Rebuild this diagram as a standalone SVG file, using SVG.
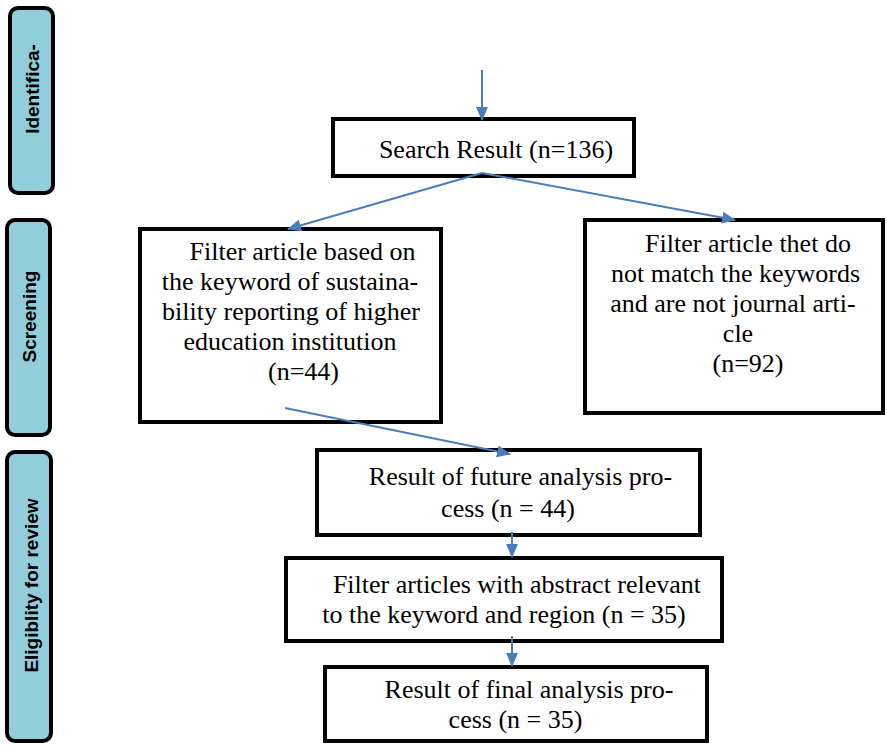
<svg xmlns="http://www.w3.org/2000/svg" width="887" height="745" viewBox="0 0 887 745">
<defs>
<marker id="ah" markerUnits="userSpaceOnUse" markerWidth="14" markerHeight="12" refX="13" refY="6" orient="auto">
<path d="M0,0 L14,6 L0,12 Z" fill="#4A7EBB"/>
</marker>
<style>
.side{fill:#92CDDC;stroke:#000;stroke-width:4}
.stxt{font-family:'Liberation Sans',Arial,sans-serif;font-weight:bold;font-size:19px;fill:#000;text-anchor:middle}
.box{fill:#fff;stroke:#000;stroke-width:4}
.t{font-family:'Liberation Serif','Times New Roman',Times,serif;font-size:26px;fill:#000;text-anchor:middle}
.c{stroke:#4A7EBB;stroke-width:2;fill:none;marker-end:url(#ah)}
</style>
</defs>
<rect width="887" height="745" fill="#fff"/>
<g id="side-identification">
<rect class="side" x="10" y="8" width="43" height="185" rx="8"/>
<text class="stxt" transform="translate(39,89) rotate(-90)">Identifica-</text>
</g>
<g id="side-screening">
<rect class="side" x="7" y="220" width="43" height="215" rx="8"/>
<text class="stxt" transform="translate(36,316.5) rotate(-90)">Screening</text>
</g>
<g id="side-eligibility">
<rect class="side" x="7" y="452" width="44" height="289" rx="8"/>
<text class="stxt" transform="translate(38,585.5) rotate(-90)">Eligiblity for review</text>
</g>
<g id="search">
<rect class="box" x="333" y="119" width="301" height="57"/>
<text class="t" x="496" y="158">Search Result (n=136)</text>
</g>
<g id="filter-left">
<rect class="box" x="140" y="229" width="301" height="193"/>
<text class="t" x="302.5" y="260">Filter article based on</text>
<text class="t" x="290" y="290">the keyword of sustaina-</text>
<text class="t" x="291" y="320">bility reporting of higher</text>
<text class="t" x="290" y="350">education institution</text>
<text class="t" x="303.5" y="380">(n=44)</text>
</g>
<g id="filter-right">
<rect class="box" x="585" y="220" width="298" height="193"/>
<text class="t" x="748" y="252">Filter article thet do</text>
<text class="t" x="735.5" y="282">not match the keywords</text>
<text class="t" x="733" y="312">and are not journal arti-</text>
<text class="t" x="738" y="342">cle</text>
<text class="t" x="748" y="372">(n=92)</text>
</g>
<g id="future-analysis">
<rect class="box" x="317" y="450" width="383" height="85"/>
<text class="t" x="520.5" y="485">Result of future analysis pro-</text>
<text class="t" x="508" y="517">cess (n = 44)</text>
</g>
<g id="abstract-filter">
<rect class="box" x="286" y="558" width="436" height="83"/>
<text class="t" x="517" y="593">Filter articles with abstract relevant</text>
<text class="t" x="504" y="623">to the keyword and region (n = 35)</text>
</g>
<g id="final-analysis">
<rect class="box" x="325" y="667" width="382" height="74"/>
<text class="t" x="529" y="698">Result of final analysis pro-</text>
<text class="t" x="515.5" y="728">cess (n = 35)</text>
</g>
<g id="connectors">
<line class="c" x1="482" y1="70" x2="482" y2="120"/>
<line class="c" x1="482" y1="173" x2="288" y2="229"/>
<line class="c" x1="482" y1="173" x2="735" y2="220"/>
<line class="c" x1="285" y1="408" x2="510" y2="454"/>
<line class="c" x1="512" y1="532" x2="512" y2="557"/>
<line class="c" x1="512" y1="636" x2="512" y2="666"/>
</g>
</svg>
